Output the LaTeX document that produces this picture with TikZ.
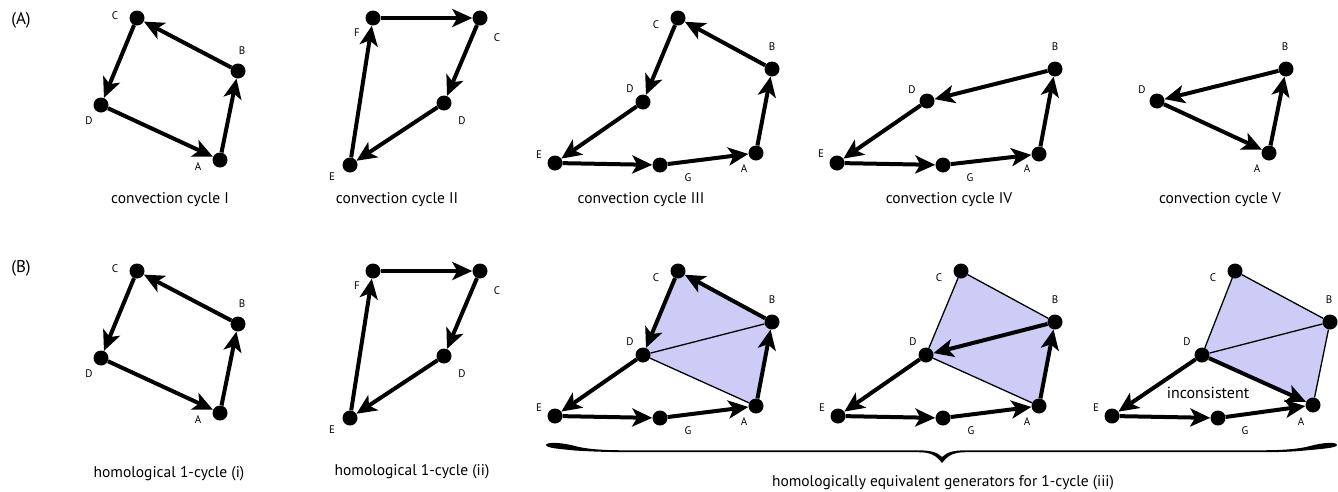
\documentclass[tikz,border=0pt]{standalone}
\usepackage{fontspec}
\setmainfont{PT Sans}
\usetikzlibrary{arrows.meta,backgrounds}
\definecolor{lav}{RGB}{204,204,247}
\begin{document}
\begin{tikzpicture}[x=1pt,y=-1pt,
  dot/.style={circle,fill=black,inner sep=0pt,minimum size=15pt},
  lab/.style={font=\fontsize{11}{13}\selectfont,inner sep=0pt},
  captxt/.style={font=\fontsize{15.5}{18}\selectfont,inner sep=0pt},
  panel/.style={font=\fontsize{17}{20}\selectfont,inner sep=0pt},
  arr/.style={line width=4pt,-{Stealth[length=20pt,width=18pt,inset=5pt]}},
  thinedge/.style={line width=1.3pt},
  lavfill/.style={fill=lav}]
\useasboundingbox (0,0) rectangle (1338,491);

\node[panel] (lA) at (21,20) {(A)};
\node[panel] (lB) at (21,268) {(B)};

% ---------- Row A ----------
% cycle I
\node[dot] (a1A) at (220,160) {};
\node[dot] (a1B) at (238,71) {};
\node[dot] (a1C) at (137,18) {};
\node[dot] (a1D) at (101,105) {};
\node[lab] (a1Al) at (198,167) {A};
\node[lab] (a1Bl) at (242,51) {B};
\node[lab] (a1Cl) at (115,16) {C};
\node[lab] (a1Dl) at (89,121) {D};
\draw[arr] (a1B) -- (a1C);
\draw[arr] (a1C) -- (a1D);
\draw[arr] (a1D) -- (a1A);
\draw[arr] (a1A) -- (a1B);
\node[captxt] (a1cap) at (170,200) {convection cycle I};

% cycle II
\node[dot] (a2F) at (373,18) {};
\node[dot] (a2C) at (480,18) {};
\node[dot] (a2D) at (444,103) {};
\node[dot] (a2E) at (350,165) {};
\node[lab] (a2Fl) at (357,33) {F};
\node[lab] (a2Cl) at (497,38) {C};
\node[lab] (a2Dl) at (462,121) {D};
\node[lab] (a2El) at (332,177) {E};
\draw[arr] (a2F) -- (a2C);
\draw[arr] (a2C) -- (a2D);
\draw[arr] (a2D) -- (a2E);
\draw[arr] (a2E) -- (a2F);
\node[captxt] (a2cap) at (397,200) {convection cycle II};

% cycle III
\node[dot] (a3A) at (756,153) {};
\node[dot] (a3B) at (772,69) {};
\node[dot] (a3C) at (678,18) {};
\node[dot] (a3D) at (643,102) {};
\node[dot] (a3E) at (555,163) {};
\node[dot] (a3G) at (660,165) {};
\node[lab] (a3Al) at (744,169) {A};
\node[lab] (a3Bl) at (772,47) {B};
\node[lab] (a3Cl) at (656,25) {C};
\node[lab] (a3Dl) at (630,89) {D};
\node[lab] (a3El) at (539,155) {E};
\node[lab] (a3Gl) at (688,178) {G};
\draw[arr] (a3B) -- (a3C);
\draw[arr] (a3C) -- (a3D);
\draw[arr] (a3D) -- (a3E);
\draw[arr] (a3E) -- (a3G);
\draw[arr] (a3G) -- (a3A);
\draw[arr] (a3A) -- (a3B);
\node[captxt] (a3cap) at (641,200) {convection cycle III};

% cycle IV
\node[dot] (a4A) at (1039,154) {};
\node[dot] (a4B) at (1055,69) {};
\node[dot] (a4D) at (927,101) {};
\node[dot] (a4E) at (837,163) {};
\node[dot] (a4G) at (943,165) {};
\node[lab] (a4Al) at (1027,169) {A};
\node[lab] (a4Bl) at (1055,47) {B};
\node[lab] (a4Dl) at (912,90) {D};
\node[lab] (a4El) at (821,154) {E};
\node[lab] (a4Gl) at (970,178) {G};
\draw[arr] (a4B) -- (a4D);
\draw[arr] (a4D) -- (a4E);
\draw[arr] (a4E) -- (a4G);
\draw[arr] (a4G) -- (a4A);
\draw[arr] (a4A) -- (a4B);
\node[captxt] (a4cap) at (949,200) {convection cycle IV};

% cycle V
\node[dot] (a5A) at (1269,153) {};
\node[dot] (a5B) at (1286,69) {};
\node[dot] (a5D) at (1157,101) {};
\node[lab] (a5Al) at (1257,169) {A};
\node[lab] (a5Bl) at (1285,47) {B};
\node[lab] (a5Dl) at (1142,90) {D};
\draw[arr] (a5B) -- (a5D);
\draw[arr] (a5D) -- (a5A);
\draw[arr] (a5A) -- (a5B);
\node[captxt] (a5cap) at (1220,200) {convection cycle V};

% ---------- Row B ----------
\begin{scope}[shift={(0,253)}]
% (i)
\node[dot] (b1A) at (220,160) {};
\node[dot] (b1B) at (238,71) {};
\node[dot] (b1C) at (137,18) {};
\node[dot] (b1D) at (101,105) {};
\node[lab] (b1Al) at (198,167) {A};
\node[lab] (b1Bl) at (242,51) {B};
\node[lab] (b1Cl) at (115,16) {C};
\node[lab] (b1Dl) at (89,121) {D};
\draw[arr] (b1B) -- (b1C);
\draw[arr] (b1C) -- (b1D);
\draw[arr] (b1D) -- (b1A);
\draw[arr] (b1A) -- (b1B);
\node[captxt] (b1cap) at (169,221) {homological 1-cycle (i)};

% (ii)
\node[dot] (b2F) at (373,18) {};
\node[dot] (b2C) at (480,18) {};
\node[dot] (b2D) at (444,103) {};
\node[dot] (b2E) at (350,165) {};
\node[lab] (b2Fl) at (357,33) {F};
\node[lab] (b2Cl) at (497,38) {C};
\node[lab] (b2Dl) at (462,121) {D};
\node[lab] (b2El) at (332,177) {E};
\draw[arr] (b2F) -- (b2C);
\draw[arr] (b2C) -- (b2D);
\draw[arr] (b2D) -- (b2E);
\draw[arr] (b2E) -- (b2F);
\node[captxt] (b2cap) at (412,219) {homological 1-cycle (ii)};
\end{scope}

% (iii) first generator
\begin{scope}[shift={(0,253)}]
\node[dot] (b3A) at (756,153) {};
\node[dot] (b3B) at (772,69) {};
\node[dot] (b3C) at (678,18) {};
\node[dot] (b3D) at (643,102) {};
\node[dot] (b3E) at (555,163) {};
\node[dot] (b3G) at (660,165) {};
\node[lab] (b3Al) at (744,169) {A};
\node[lab] (b3Bl) at (772,47) {B};
\node[lab] (b3Cl) at (656,25) {C};
\node[lab] (b3Dl) at (630,89) {D};
\node[lab] (b3El) at (539,155) {E};
\node[lab] (b3Gl) at (688,178) {G};
\begin{scope}[on background layer]
\fill[lavfill] (b3C.center) -- (b3B.center) -- (b3A.center) -- (b3D.center) -- cycle;
\end{scope}
\draw[thinedge] (b3D) -- (b3B);
\draw[thinedge] (b3D) -- (b3A);
\draw[arr] (b3B) -- (b3C);
\draw[arr] (b3C) -- (b3D);
\draw[arr] (b3D) -- (b3E);
\draw[arr] (b3E) -- (b3G);
\draw[arr] (b3G) -- (b3A);
\draw[arr] (b3A) -- (b3B);
\end{scope}

% (iii) second generator
\begin{scope}[shift={(283,253)}]
\node[dot] (b4A) at (756,153) {};
\node[dot] (b4B) at (772,69) {};
\node[dot] (b4C) at (678,18) {};
\node[dot] (b4D) at (643,102) {};
\node[dot] (b4E) at (555,163) {};
\node[dot] (b4G) at (660,165) {};
\node[lab] (b4Al) at (744,169) {A};
\node[lab] (b4Bl) at (772,47) {B};
\node[lab] (b4Cl) at (656,25) {C};
\node[lab] (b4Dl) at (630,89) {D};
\node[lab] (b4El) at (539,155) {E};
\node[lab] (b4Gl) at (688,178) {G};
\begin{scope}[on background layer]
\fill[lavfill] (b4C.center) -- (b4B.center) -- (b4A.center) -- (b4D.center) -- cycle;
\end{scope}
\draw[thinedge] (b4C) -- (b4B);
\draw[thinedge] (b4C) -- (b4D);
\draw[thinedge] (b4D) -- (b4A);
\draw[arr] (b4B) -- (b4D);
\draw[arr] (b4D) -- (b4E);
\draw[arr] (b4E) -- (b4G);
\draw[arr] (b4G) -- (b4A);
\draw[arr] (b4A) -- (b4B);
\end{scope}

% (iii) third generator
\begin{scope}[shift={(557,253)}]
\node[dot] (b5A) at (756,152) {};
\node[dot] (b5B) at (773,69) {};
\node[dot] (b5C) at (678,18) {};
\node[dot] (b5D) at (645,102) {};
\node[dot] (b5E) at (555,163) {};
\node[dot] (b5G) at (661,165) {};
\node[lab] (b5Al) at (744,169) {A};
\node[lab] (b5Bl) at (772,47) {B};
\node[lab] (b5Cl) at (656,25) {C};
\node[lab] (b5Dl) at (630,89) {D};
\node[lab] (b5El) at (539,155) {E};
\node[lab] (b5Gl) at (688,178) {G};
\node[captxt,font=\fontsize{16}{19}\selectfont] (b5inc) at (651,140) {inconsistent};
\begin{scope}[on background layer]
\fill[lavfill] (b5C.center) -- (b5B.center) -- (b5A.center) -- (b5D.center) -- cycle;
\end{scope}
\draw[thinedge] (b5C) -- (b5B);
\draw[thinedge] (b5C) -- (b5D);
\draw[thinedge] (b5D) -- (b5B);
\draw[thinedge] (b5B) -- (b5A);
\draw[arr] (b5D) -- (b5A);
\draw[arr] (b5D) -- (b5E);
\draw[arr] (b5E) -- (b5G);
\draw[arr] (b5G) -- (b5A);
\end{scope}

% brace
\coordinate (brL) at (546,445);
\coordinate (brR) at (1337,445);
\coordinate (brT) at (942,463);
\fill (brL) .. controls (546,442) and (560,442) .. (575,446)
  .. controls (590,450) and (610,450.3) .. (630,450.3) -- (918,450.3)
  .. controls (930,450.3) and (937,452) .. (942,457)
  .. controls (947,452) and (954,450.3) .. (966,450.3) -- (1255,450.3)
  .. controls (1275,450.3) and (1295,450) .. (1310,446)
  .. controls (1325,442) and (1337,442) .. (brR)
  .. controls (1337,448) and (1320,449) .. (1305,450.5)
  .. controls (1290,452) and (1275,452.2) .. (1255,452.2) -- (966,452.2)
  .. controls (954,452.2) and (948,455) .. (brT)
  .. controls (936,455) and (930,452.2) .. (918,452.2) -- (630,452.2)
  .. controls (610,452.2) and (590,451.5) .. (575,450.5)
  .. controls (560,449) and (546,448) .. (brL) -- cycle;
\node[captxt] (b3cap) at (943,483) {homologically equivalent generators for 1-cycle (iii)};
\end{tikzpicture}
\end{document}
